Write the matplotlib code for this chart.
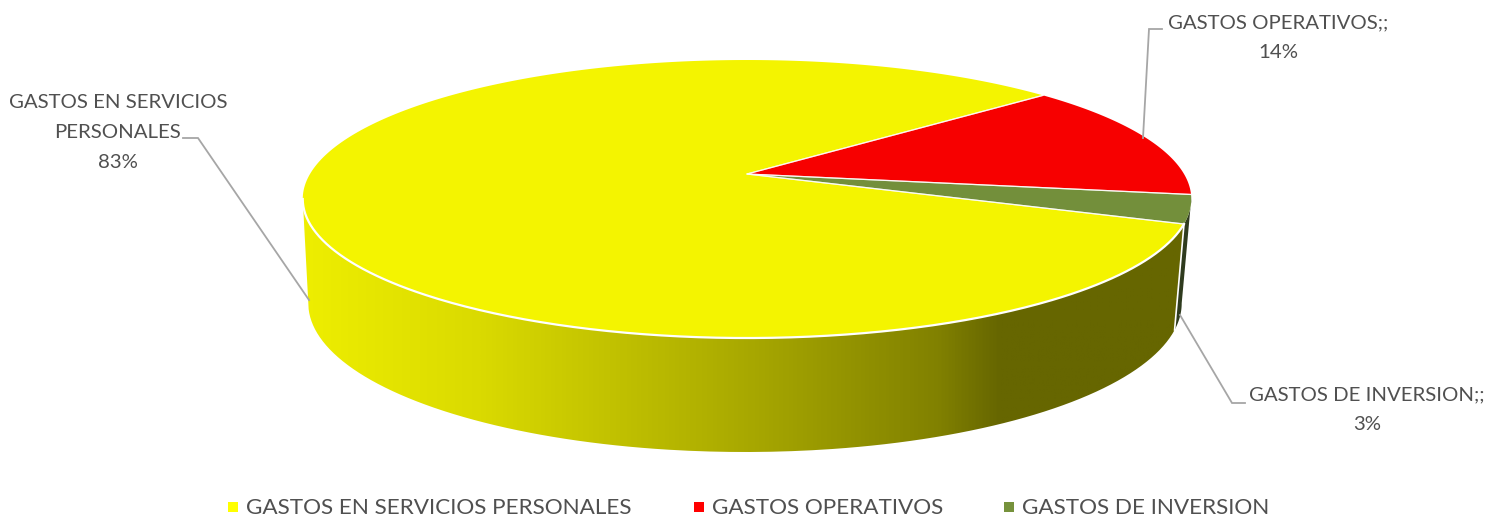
"""3D style pie chart drawn by hand on a pixel-sized axes."""

import numpy as np
import matplotlib

matplotlib.use("Agg")
import matplotlib.pyplot as plt
from matplotlib.colors import LinearSegmentedColormap
from matplotlib.patches import PathPatch, Polygon
from matplotlib.path import Path

categories = ["GASTOS EN SERVICIOS PERSONALES", "GASTOS OPERATIVOS", "GASTOS DE INVERSION"]
shares = [83, 13.7, 3.3]
label_lines = [["GASTOS EN SERVICIOS", "PERSONALES"], ["GASTOS OPERATIVOS;;"], ["GASTOS DE INVERSION;;"]]

TOP_COLORS = ["#F4F400", "#F70000", "#738F3B"]
LEGEND_COLORS = ["#FFFF00", "#FF0000", "#76923C"]
TEXT = "#505050"
LEADER = "#A6A6A6"

plt.rcParams["font.family"] = ["Lato", "DejaVu Sans"]

# ellipse seen in perspective
CX, CY, A, B, P = 747.0, 174.0, 437.0, 134.5, 0.18
BOTTOM_SX, BOTTOM_SY, BOTTOM_CX, BOTTOM_CY = 0.983, 1.07, 745.0, 276.5
START = 20.4  # degrees where the first slice begins, clockwise on screen


def rim(deg, sx=1.0, sy=1.0, cx=CX, cy=CY):
    t = np.radians(deg)
    k = 1 / (1 - P * np.sin(t))
    return np.column_stack([cx + sx * A * np.cos(t) * k, cy + sy * B * np.sin(t) * k])


def bottom_rim(deg):
    return rim(deg, BOTTOM_SX, BOTTOM_SY, BOTTOM_CX, BOTTOM_CY)


def wall_points(a0, a1):
    angles = np.linspace(a0, a1, 200)
    return np.vstack([rim(angles), bottom_rim(angles[::-1])])


fig = plt.figure(figsize=(14.86, 5.17), dpi=100)
ax = fig.add_axes([0, 0, 1, 1])

edges = START + np.cumsum([0] + shares) * 3.6
tangent_left = 180 - np.degrees(np.arcsin(P))
tangent_right = np.degrees(np.arcsin(P))

# side wall, yellow slice with horizontal shading
shade = LinearSegmentedColormap.from_list(
    "wall",
    [(0.0, "#EEEE00"), (0.2, "#DADA00"), (0.5, "#A9A900"), (0.72, "#818100"), (0.79, "#666600"), (1.0, "#666600")],
)
wall = PathPatch(Path(wall_points(edges[0], tangent_left), closed=False), transform=ax.transData,
                 facecolor="none", edgecolor="none")
ax.add_patch(wall)
img = ax.imshow(np.linspace(0, 1, 512).reshape(1, -1), cmap=shade, extent=(303, 1186, 460, 190),
                aspect="auto", zorder=1)
img.set_clip_path(wall)

# side wall, green slice
ax.add_patch(Polygon(wall_points(tangent_right, edges[0]), closed=True,
                     facecolor="#2F3B1E", edgecolor="none", zorder=1))
seam = np.vstack([rim(edges[0]), bottom_rim(edges[0])])
ax.plot(seam[:, 0], seam[:, 1], color="white", lw=1.2, zorder=2)

# top face
for a0, a1, color in zip(edges[:-1], edges[1:], TOP_COLORS):
    pts = np.vstack([[CX, CY], rim(np.linspace(a0, a1, 300))])
    ax.add_patch(Polygon(pts, closed=True, facecolor=color, edgecolor="none", zorder=3))
    ax.plot(*pts[[1, 0, -1]].T, color="white", lw=0.9, alpha=0.75, zorder=4)
front = rim(np.linspace(edges[0], tangent_left, 300))
ax.plot(front[:, 0], front[:, 1], color="white", lw=1.6, zorder=4)

# leader lines
for xs, ys in [((183, 198, 309), (138, 138, 300)), ((1162, 1149, 1143), (29, 29, 138)), ((1180, 1232, 1245), (315, 403, 403))]:
    ax.plot(xs, ys, color=LEADER, lw=1.3, zorder=5, solid_joinstyle="miter")

# data labels
positions = [(118, 102.5), (1278, 23), (1367, 395)]
for (x, y), lines, share in zip(positions, label_lines, shares):
    for i, line in enumerate(lines + [f"{round(share)}%"]):
        ax.text(x, y + i * 30, line, ha="center", va="center", fontsize=14.7, color=TEXT, zorder=6)

# legend
for x, name, color in zip([233, 699, 1009], categories, LEGEND_COLORS):
    ax.scatter([x], [507], marker="s", s=58, color=color, linewidths=0, zorder=6)
    ax.text(x + 13, 508.5, name, ha="left", va="center", fontsize=16.2, color=TEXT, zorder=6)

ax.set_xlim(0, 1486)
ax.set_ylim(517, 0)
ax.axis("off")

fig.savefig("out.png", dpi=100, facecolor="white")
